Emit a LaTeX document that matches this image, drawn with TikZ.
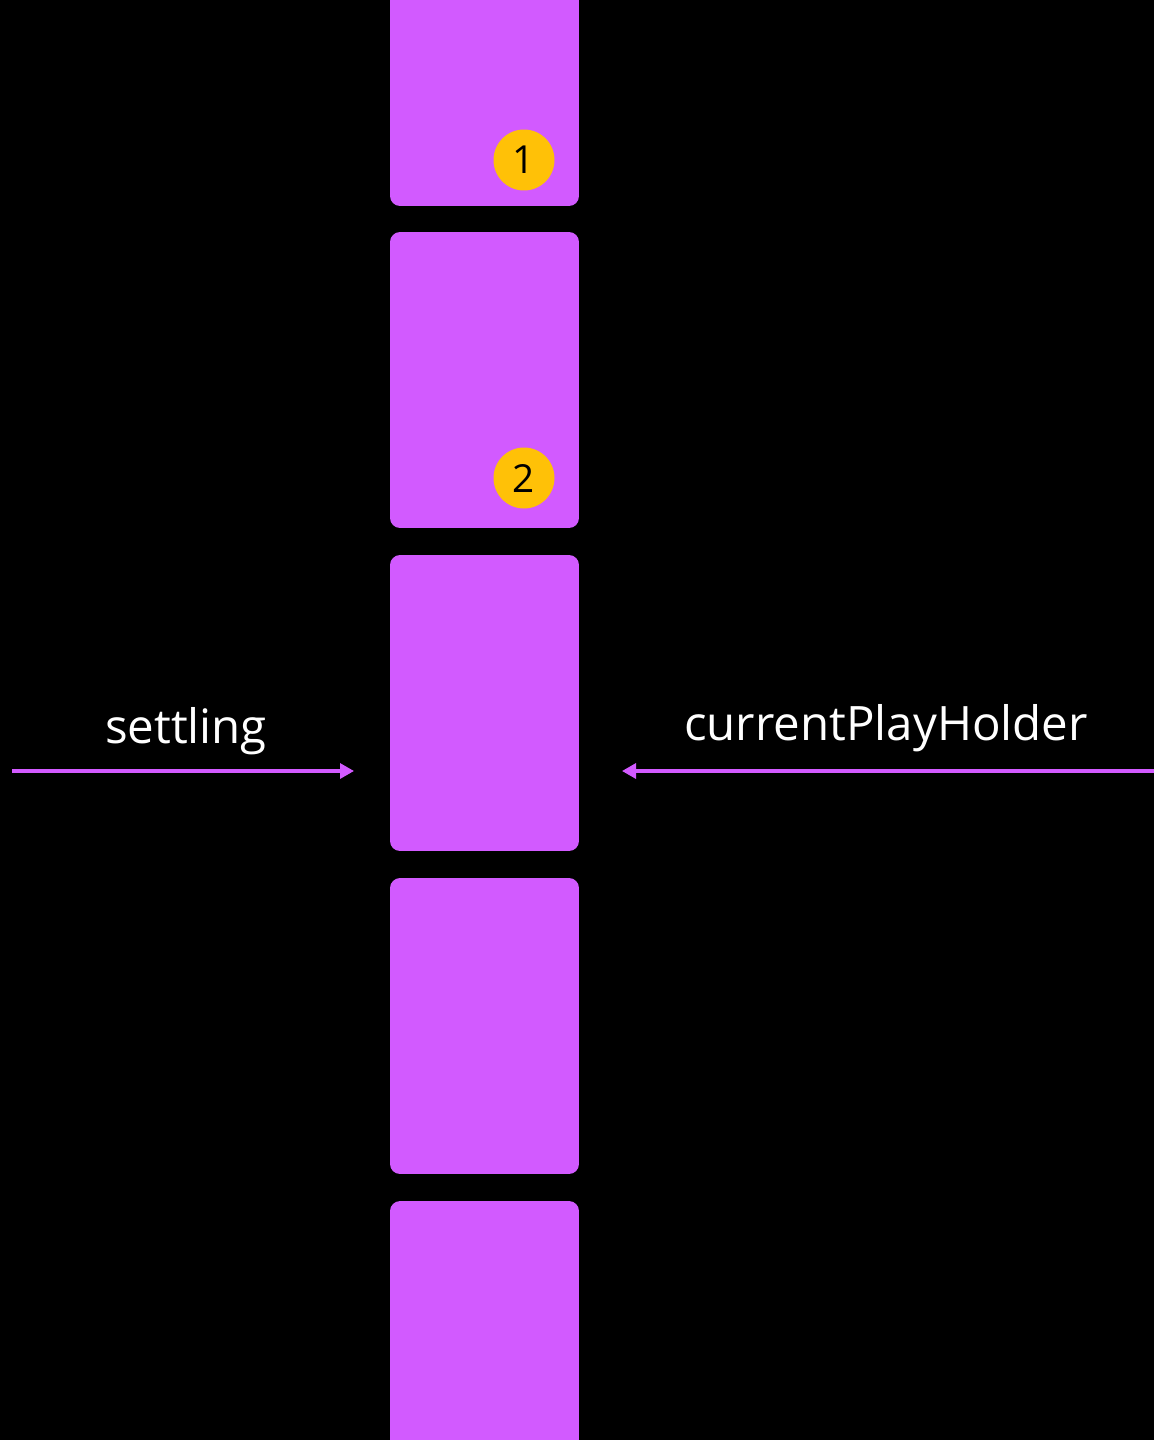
\documentclass[tikz,border=0pt]{standalone}
\usepackage{fontspec}
\setmainfont{Open Sans}
\usetikzlibrary{arrows.meta}

\definecolor{cardpurple}{RGB}{210,90,255}
\definecolor{badgeyellow}{RGB}{255,193,7}

\tikzset{
  card/.style={fill=cardpurple, rounded corners=0.2cm, minimum width=3.78cm, minimum height=5.92cm, inner sep=0pt},
  badge/.style={circle, fill=badgeyellow, minimum size=1.22cm, inner sep=0pt, font=\fontsize{22}{22}\selectfont},
  pointer/.style={draw=cardpurple, line width=1.8pt, -{Triangle[length=0.28cm, width=0.3cm]}},
  label/.style={text=white, font=\fontsize{27}{27}\selectfont}
}

\begin{document}
\begin{tikzpicture}[x=0.02cm, y=-0.02cm]
\fill[black] (0,0) rectangle (1154,1440);
\useasboundingbox (0,0) rectangle (1154,1440);
\clip (0,0) rectangle (1154,1440);

% column of cards
\node[card] (c1) at (484.5,58) {};
\node[card] (c2) at (484.5,380) {};
\node[card] (c3) at (484.5,703) {};
\node[card] (c4) at (484.5,1026) {};
\node[card] (c5) at (484.5,1349) {};

\node[badge] (b1) at (524,160) {1};
\node[badge] (b2) at (524,478) {2};

% pointers on both sides
\coordinate (lstart) at (12,771);
\coordinate (lend) at (354,771);
\coordinate (rstart) at (1154,771);
\coordinate (rend) at (622,771);
\draw[pointer] (lstart) -- (lend);
\draw[pointer] (rstart) -- (rend);

\node[label] (settling) at (186,731) {settling};
\node[label] (holder) at (886,728) {currentPlayHolder};
\end{tikzpicture}
\end{document}
